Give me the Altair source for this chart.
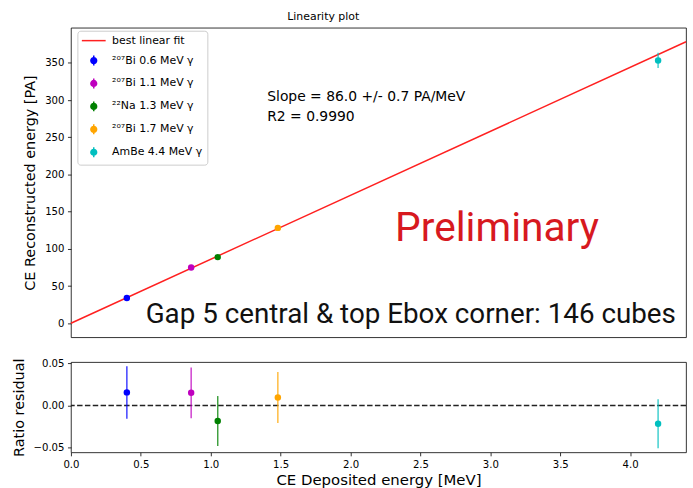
import altair as alt
import pandas as pd

# ---------------- data ----------------
categories = ["²⁰⁷Bi 0.6 MeV γ", "²⁰⁷Bi 1.1 MeV γ", "²²Na 1.3 MeV γ",
              "²⁰⁷Bi 1.7 MeV γ", "AmBe 4.4 MeV γ"]
colors = ["#0000ff", "#bf00bf", "#008000", "#ffa500", "#00bfbf"]
fit_label = "best linear fit"
fit_color = "#ff2020"

deposited = [0.40, 0.86, 1.05, 1.48, 4.20]            # MeV
reconstructed = [34.0, 75.0, 88.9, 128.2, 353.3]      # PA
reconstructed_err = [1.0, 2.2, 2.6, 3.8, 10.3]
residual = [0.0155, 0.0150, -0.0183, 0.0095, -0.0215]
residual_err = [0.0310, 0.0300, 0.0295, 0.0302, 0.0290]

slope = 86.0                 # PA/MeV, fit through origin
fit_x = [0.0, 4.4]

x_ticks = [0.0, 0.5, 1.0, 1.5, 2.0, 2.5, 3.0, 3.5, 4.0]
y_ticks = [0, 50, 100, 150, 200, 250, 300, 350]
res_ticks = [-0.05, 0.0, 0.05]

info_text = ["Slope = 86.0 +/- 0.7 PA/MeV", "R2 = 0.9990"]
info_x = [1.404, 1.404]
info_y = [298.4, 271.7]
prelim_text = ["Preliminary"]
prelim_x = [3.048]
prelim_y = [110.5]
gap_text = ["Gap 5 central & top Ebox corner: 146 cubes"]
gap_x = [2.431]
gap_y = [0.1]

# ---------------- tables ----------------
pts = pd.DataFrame({
    "cat": categories,
    "x": deposited,
    "y": reconstructed,
    "ylo": [v - e for v, e in zip(reconstructed, reconstructed_err)],
    "yhi": [v + e for v, e in zip(reconstructed, reconstructed_err)],
    "r": residual,
    "rlo": [v - e for v, e in zip(residual, residual_err)],
    "rhi": [v + e for v, e in zip(residual, residual_err)],
})
fit = pd.DataFrame({"x": fit_x, "y": [slope * v for v in fit_x]})
info = pd.DataFrame({"x": info_x, "y": info_y, "t": info_text})
prelim = pd.DataFrame({"x": prelim_x, "y": prelim_y, "t": prelim_text})
gap = pd.DataFrame({"x": gap_x, "y": gap_y, "t": gap_text})
zero = pd.DataFrame({"r": [0.0]})

# ---------------- scales / axes ----------------
xscale = alt.Scale(domain=[0, 4.4], nice=False, zero=False)
yscale = alt.Scale(domain=[-18.9, 397.3], nice=False, zero=False)
rscale = alt.Scale(domain=[-0.0553, 0.0513], nice=False, zero=False)
cscale = alt.Scale(domain=categories, range=colors)

top_x_axis = alt.Axis(title=None, labels=False, ticks=False)
top_y_axis = alt.Axis(title="CE Reconstructed energy [PA]", values=y_ticks, format="d")
bot_x_axis = alt.Axis(title="CE Deposited energy [MeV]", values=x_ticks, format=".1f",
                      titleFontSize=15, titlePadding=3, labelFlush=False)
bot_y_axis = alt.Axis(title="Ratio residual", values=res_ticks, format=".2f")

X_top = alt.X("x:Q", scale=xscale, axis=top_x_axis)
Y_top = alt.Y("y:Q", scale=yscale, axis=top_y_axis)
X_bot = alt.X("x:Q", scale=xscale, axis=bot_x_axis)

# legend built from shape/fill/stroke scales
LINE = "M-3,0L3,0"
DOT = "M-0.725,0A0.725,0.725,0,1,0,0.725,0A0.725,0.725,0,1,0,-0.725,0ZM0,-1.25L0,1.25"
leg_domain = [fit_label] + categories
leg_colors = [fit_color] + colors
leg_shapes = [LINE] + [DOT] * len(categories)
leg = alt.Legend(title=None, orient="none", legendX=6.5, legendY=3, direction="vertical",
                 symbolSize=64, symbolOffset=6.5, labelOffset=13, padding=4.5,
                 rowPadding=6.1, fillColor="white", strokeColor="#cccccc",
                 cornerRadius=3, labelFont="DejaVu Sans", labelFontSize=11,
                 labelColor="black", symbolStrokeWidth=1.5, symbolOpacity=1,
                 labelLimit=300)

# ---------------- top panel ----------------
top_err = alt.Chart(pts).mark_rule(strokeWidth=1.5, opacity=0.75).encode(
    x=X_top, y=alt.Y("ylo:Q", scale=yscale, axis=top_y_axis), y2="yhi:Q",
    color=alt.Color("cat:N", scale=cscale, legend=None))

fit_line = alt.Chart(fit).mark_line(color=fit_color, strokeWidth=1.5).encode(x=X_top, y=Y_top)

top_pts = alt.Chart(pts).mark_circle(size=42, opacity=1).encode(
    x=X_top, y=Y_top, color=alt.Color("cat:N", scale=cscale, legend=None))

legend_layer = alt.Chart(pts).mark_point(filled=True, opacity=1, strokeWidth=1.5).encode(
    x=X_top, y=Y_top,
    fill=alt.Fill("cat:N", scale=alt.Scale(domain=leg_domain, range=leg_colors), legend=leg),
    stroke=alt.Stroke("cat:N", scale=alt.Scale(domain=leg_domain, range=leg_colors), legend=leg),
    shape=alt.Shape("cat:N", scale=alt.Scale(domain=leg_domain, range=leg_shapes), legend=leg),
).transform_filter("false")

info_layer = alt.Chart(info).mark_text(align="left", baseline="alphabetic",
                                       font="DejaVu Sans", fontSize=14, color="black").encode(
    x=X_top, y=Y_top, text="t:N")
prelim_layer = alt.Chart(prelim).mark_text(align="center", baseline="alphabetic",
                                           font="Roboto", fontSize=41, color="#d7191f").encode(
    x=X_top, y=Y_top, text="t:N")
gap_layer = alt.Chart(gap).mark_text(align="center", baseline="alphabetic",
                                     font="Roboto", fontSize=28, color="#111111").encode(
    x=X_top, y=Y_top, text="t:N")

top = alt.layer(fit_line, top_err, top_pts, legend_layer, info_layer, prelim_layer, gap_layer).properties(
    width=620, height=312,
    title=alt.TitleParams("Linearity plot", anchor="start", frame="group", dx=218, dy=10.5,
                          offset=7.5, baseline="alphabetic", font="DejaVu Sans", fontSize=11,
                          fontWeight="normal", color="black"))

# ---------------- residual panel ----------------
zero_line = alt.Chart(zero).mark_rule(color="#222222", strokeWidth=1.5, strokeDash=[5.5, 2.4]).encode(
    y=alt.Y("r:Q", scale=rscale, axis=bot_y_axis))
bot_err = alt.Chart(pts).mark_rule(strokeWidth=1.5, opacity=0.75).encode(
    x=X_bot, y=alt.Y("rlo:Q", scale=rscale, axis=bot_y_axis), y2="rhi:Q",
    color=alt.Color("cat:N", scale=cscale, legend=None))
bot_pts = alt.Chart(pts).mark_circle(size=42, opacity=1).encode(
    x=X_bot, y=alt.Y("r:Q", scale=rscale, axis=bot_y_axis),
    color=alt.Color("cat:N", scale=cscale, legend=None))

bottom = alt.layer(zero_line, bot_err, bot_pts).properties(width=620, height=91)

chart = alt.vconcat(top, bottom, spacing=19).properties(
    padding={"left": 10.5, "top": 8, "right": 3, "bottom": 3},
    background="white",
).configure_view(stroke="black", strokeWidth=0.8).configure_axis(
    labelFont="DejaVu Sans", labelFontSize=10.2, labelColor="black",
    titleFont="DejaVu Sans", titleFontSize=14.5, titleFontWeight="normal", titleColor="black",
    tickColor="black", tickSize=3.5, tickWidth=0.8, labelPadding=3.5,
    domain=False, grid=False, titlePadding=7
).configure_legend(
    labelFont="DejaVu Sans", labelFontSize=11, labelColor="black",
    rowPadding=6.1, labelLimit=300)

chart.save("out.html", embed_options={"renderer": "svg", "actions": False})
